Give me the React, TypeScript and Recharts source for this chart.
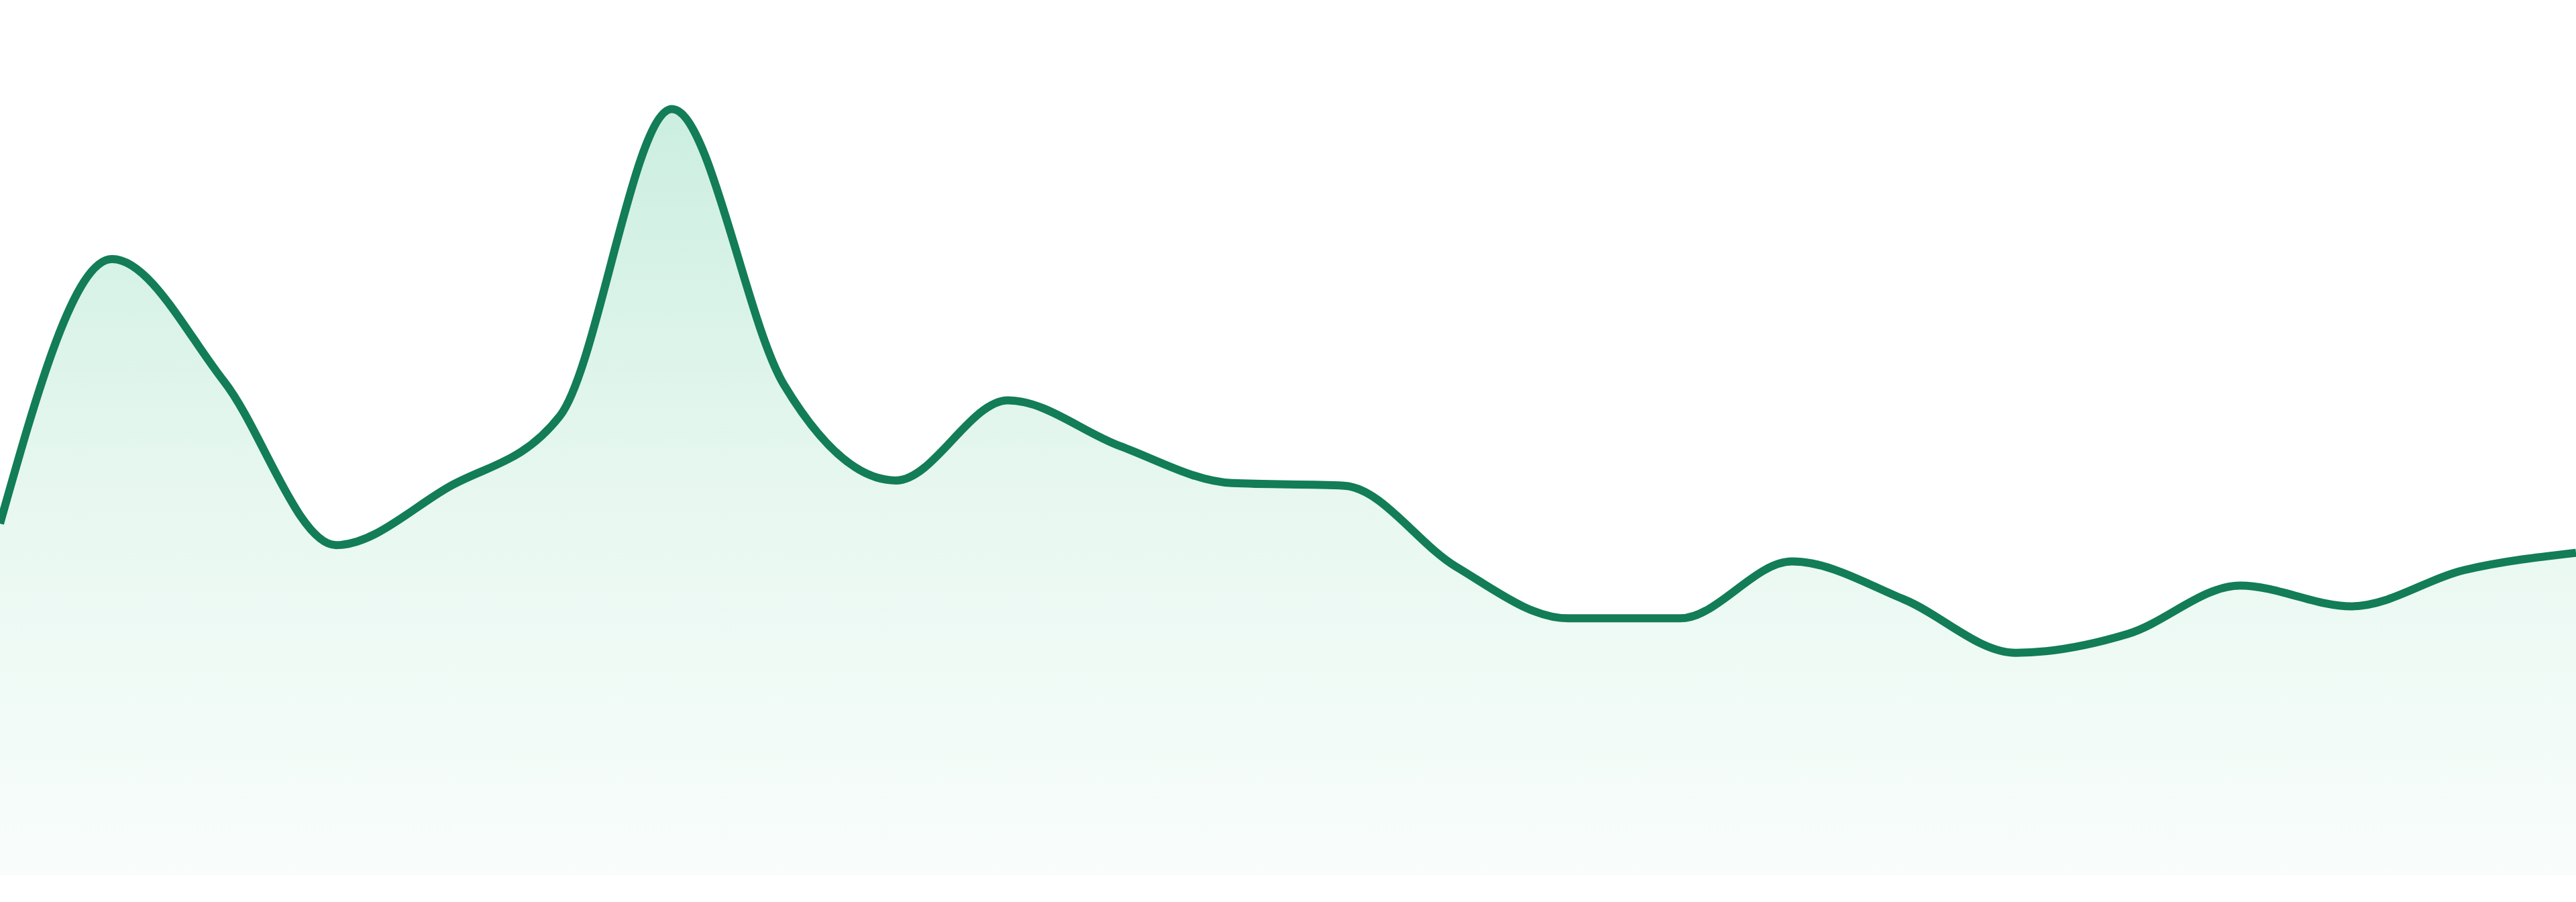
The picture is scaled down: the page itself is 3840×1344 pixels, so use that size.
import { Area, AreaChart, XAxis, YAxis } from "recharts";

const hours = [
  "00:00", "01:00", "02:00", "03:00", "04:00", "05:00", "06:00", "07:00",
  "08:00", "09:00", "10:00", "11:00", "12:00", "13:00", "14:00", "15:00",
  "16:00", "17:00", "18:00", "19:00", "20:00", "21:00", "22:00", "23:00",
];

const visits = [
  408, 715, 573, 383, 450, 533, 889, 569, 458, 551, 498, 455,
  452, 358, 298, 298, 364, 320, 258, 280, 336, 312, 354, 374,
];

const data = hours.map((hour, i) => ({ hour, visits: visits[i] }));

export default function App() {
  return (
    <div style={{ position: "fixed", left: 0, top: 0, background: "#fff" }}>
      <AreaChart
        width={3840}
        height={1344}
        data={data}
        margin={{ top: 20, right: 0, left: 0, bottom: 40 }}
      >
        <defs>
          <linearGradient id="visitsFill" x1="0" y1="0" x2="0" y2="1">
            <stop offset="0%" stopColor="#0fb16c" stopOpacity={0.36} />
            <stop offset="50%" stopColor="#0fb16c" stopOpacity={0.165} />
            <stop offset="100%" stopColor="#0fb16c" stopOpacity={0.045} />
          </linearGradient>
        </defs>

        <XAxis dataKey="hour" hide />
        <YAxis hide domain={[0, 1000]} />

        <Area
          type="monotone"
          dataKey="visits"
          stroke="#127d56"
          strokeWidth={12}
          fill="url(#visitsFill)"
          dot={false}
          activeDot={false}
          isAnimationActive={false}
        />
      </AreaChart>
    </div>
  );
}
